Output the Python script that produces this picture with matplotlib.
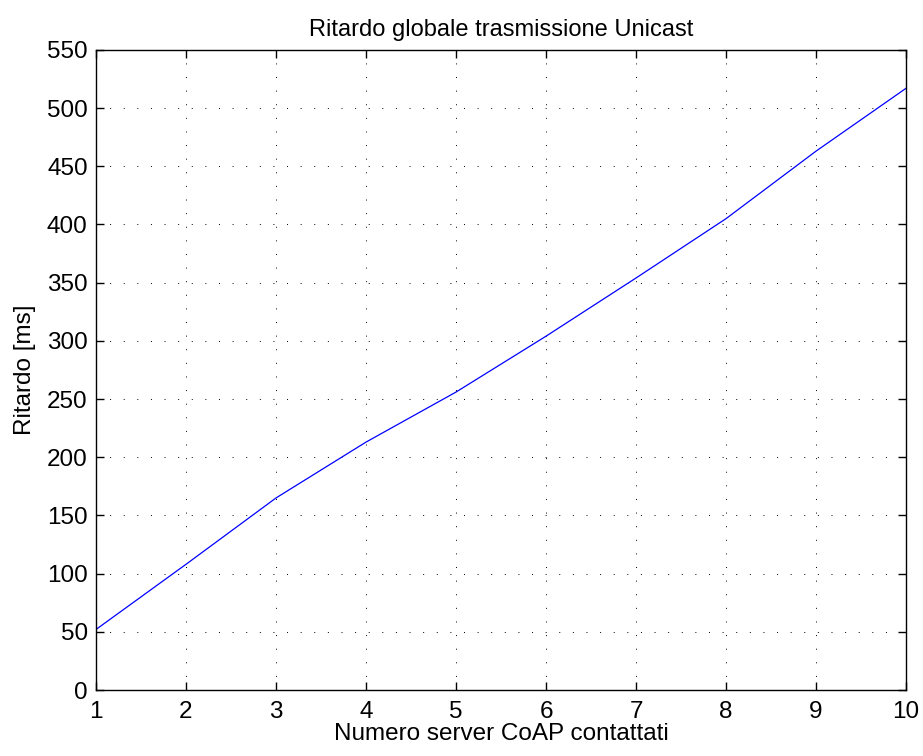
import numpy as np
import matplotlib.pyplot as plt

plt.rcParams['font.family'] = ['Liberation Sans', 'DejaVu Sans']

server = [1, 2, 3, 4, 5, 6, 7, 8, 9, 10]
ritardo = [52, 108, 165, 213, 256, 304, 354, 405, 463, 517]

fig = plt.figure(figsize=(9.23, 7.56), dpi=100)
ax = fig.add_axes([0.104, 0.0873, 0.8776, 0.8467])
ax.plot(server, ritardo, color='#0000ff', linewidth=0.9)

ax.set_xlim(1, 10)
ax.set_ylim(0, 550)
ax.set_xticks(np.arange(1, 11, 1))
ax.set_yticks(np.arange(0, 551, 50))
ax.grid(True, color='black', linestyle=(0, (1, 13)), linewidth=0.7)
ax.tick_params(direction='in', top=True, right=True, labelsize=17.5,
               length=6, width=1)
ax.tick_params(axis='x', pad=8)
ax.tick_params(axis='y', pad=6)
for s in ax.spines.values():
    s.set_linewidth(1)

ax.set_title('Ritardo globale trasmissione Unicast', fontsize=17, pad=10)
ax.set_xlabel('Numero server CoAP contattati', fontsize=17.5, labelpad=0)
ax.set_ylabel('Ritardo [ms]', fontsize=17.5, labelpad=8)

fig.savefig('out.png', dpi=100)
